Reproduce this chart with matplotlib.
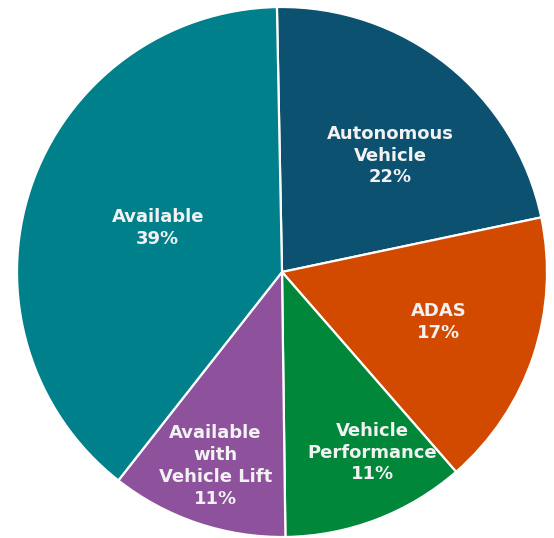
import numpy as np
import matplotlib
matplotlib.use('Agg')
import matplotlib.pyplot as plt

# доли сегментов (в процентах), по часовой стрелке от верха
labels = ['Autonomous\nVehicle', 'ADAS', 'Vehicle\nPerformance',
          'Available\nwith\nVehicle Lift', 'Available']
shares = [22.0, 16.9, 11.2, 10.8, 39.1]
colors = ['#0c5170', '#d24a00', '#00873a', '#8e529c', '#00808b']
# положение подписи: доля радиуса и сдвиг от середины сектора (градусы)
label_dist = [0.60, 0.62, 0.762, 0.774, 0.497]
label_shift = [-4.4, 0.8, 5.6, -0.2, -1.0]

W, H = 554, 538
fig = plt.figure(figsize=(W / 100, H / 100), dpi=100)
ax = fig.add_axes([0, 0, 1, 1])

cx, cy, r = 282, H - 272, 265
wedges, _ = ax.pie(shares, colors=colors, startangle=91.1, counterclock=False,
                   center=(cx, cy), radius=r, frame=True,
                   wedgeprops=dict(edgecolor='white', linewidth=1.6))
ax.set_xlim(0, W)
ax.set_ylim(0, H)
ax.set_aspect('equal')
ax.axis('off')

for w, lab, val, d, s in zip(wedges, labels, shares, label_dist, label_shift):
    mid = np.deg2rad((w.theta1 + w.theta2) / 2 + s)
    x = cx + d * r * np.cos(mid)
    y = cy + d * r * np.sin(mid)
    ax.text(x, y, f'{lab}\n{val:.0f}%', ha='center', va='center',
            color='#f2f2f2', fontsize=13, fontweight='bold',
            family='DejaVu Sans', linespacing=1.27)

plt.savefig('out.png', dpi=100)
